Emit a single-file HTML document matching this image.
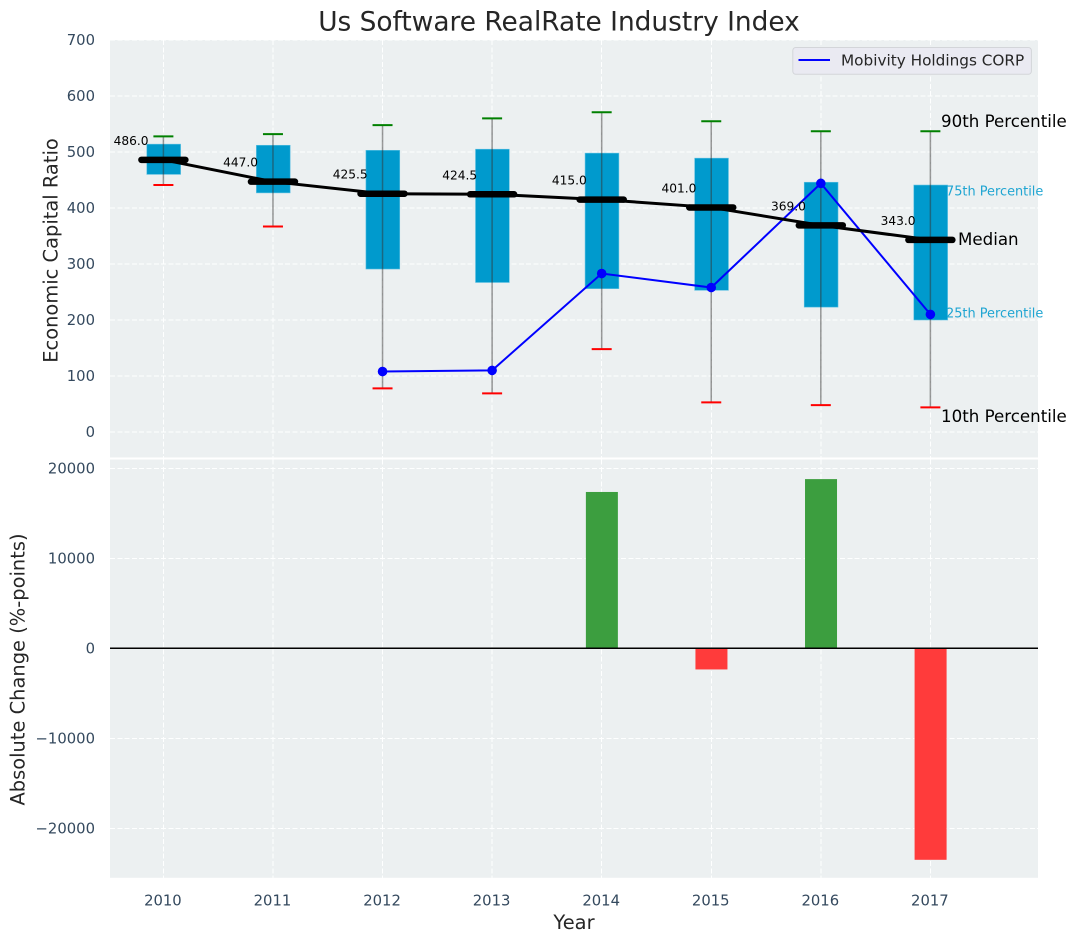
<!DOCTYPE html>
<html lang="en">
<head>
<meta charset="utf-8">
<title>Us Software RealRate Industry Index</title>
<style>
html,body{margin:0;padding:0;background:#fff;}
svg{display:block;font-family:"DejaVu Sans","Liberation Sans",sans-serif;}
</style>
</head>
<body>
<svg id="chart" xmlns="http://www.w3.org/2000/svg" width="1076" height="942" viewBox="0 0 1076 942">
  <rect x="0" y="0" width="1076" height="942" fill="#ffffff"/>
  <rect x="110" y="40" width="928" height="417.5" fill="#ecf0f1"/>
  <rect x="110" y="459.5" width="928" height="418.3" fill="#ecf0f1"/>
  <g id="grid" shape-rendering="crispEdges"></g>
  <g id="bars"></g>
  <line x1="110" x2="1038" y1="648.3" y2="648.3" stroke="#000" stroke-width="1.5"/>
  <g id="boxes"></g>
  <g id="series"></g>
  <g id="ticks"></g>
  <text x="559" y="30.5" text-anchor="middle" font-size="26.4" fill="#262626">Us Software RealRate Industry Index</text>
  <text transform="translate(57.5,250.5) rotate(-90)" text-anchor="middle" font-size="19.44" fill="#262626">Economic Capital Ratio</text>
  <text transform="translate(24.5,669.5) rotate(-90)" text-anchor="middle" font-size="19.44" fill="#262626">Absolute Change (%-points)</text>
  <text x="574" y="929" text-anchor="middle" font-size="19.44" fill="#262626">Year</text>
  <text x="941" y="127" font-size="16.67" fill="#000">90th Percentile</text>
  <text x="946" y="195.5" font-size="12.9" fill="#1fa5d2">75th Percentile</text>
  <text x="958" y="245" font-size="16.67" fill="#000">Median</text>
  <text x="946" y="317.5" font-size="12.9" fill="#1fa5d2">25th Percentile</text>
  <text x="941" y="422" font-size="16.67" fill="#000">10th Percentile</text>
  <g>
    <rect x="792.8" y="47.5" width="238.6" height="26.8" rx="3" fill="#eaeaf2" stroke="#d3d5d9" stroke-width="1"/>
    <line x1="798.5" x2="830" y1="60" y2="60" stroke="#0000ff" stroke-width="2"/>
    <text x="841" y="65.5" font-size="15.28" fill="#262626">Mobivity Holdings CORP</text>
  </g>
</svg>
<script>
const years = [2010, 2011, 2012, 2013, 2014, 2015, 2016, 2017];
const p90 = [528, 532, 548, 560, 571, 555, 537, 537];
const q3 = [514, 512, 503, 505, 498, 489, 446, 441];
const medians = [486.0, 447.0, 425.5, 424.5, 415.0, 401.0, 369.0, 343.0];
const q1 = [460, 427, 291, 267, 256, 253, 223, 200];
const p10 = [441, 367, 78, 69, 148, 53, 48, 44];
const companyValues = [null, null, 108, 110, 283, 258, 444, 210];
const changes = [0, 0, 0, 0, 17370, -2350, 18800, -23500];
const topTicks = [0, 100, 200, 300, 400, 500, 600, 700];
const bottomTicks = [-20000, -10000, 0, 10000, 20000];

const NS = 'http://www.w3.org/2000/svg';
const xScale = function (year) { return 163.4 + (year - 2010) * 109.57; };
const yTop = function (v) { return 432 - v * 0.56; };
const yBottom = function (v) { return 648.3 - v * 0.009; };

function make(parent, tag, attrs, text) {
  const el = document.createElementNS(NS, tag);
  Object.keys(attrs).forEach(function (k) { el.setAttribute(k, attrs[k]); });
  if (text !== undefined) el.textContent = text;
  parent.appendChild(el);
  return el;
}

const gridG = document.getElementById('grid');
const barsG = document.getElementById('bars');
const boxesG = document.getElementById('boxes');
const seriesG = document.getElementById('series');
const ticksG = document.getElementById('ticks');
const gridStyle = { stroke: '#ffffff', 'stroke-width': 1, 'stroke-opacity': 0.95, 'stroke-dasharray': '5 2.3' };

years.forEach(function (year) {
  const x = xScale(year);
  const a = make(gridG, 'line', Object.assign({ x1: x, x2: x, y1: 40, y2: 457.5 }, gridStyle));
  
  
  const b = make(gridG, 'line', Object.assign({ x1: x, x2: x, y1: 459.5, y2: 877.8 }, gridStyle));
  
  
  const label = make(ticksG, 'text', { x: x - 0.5, y: 905.5, 'text-anchor': 'middle', 'font-size': 14.8, fill: '#34495e' }, String(year));
  
  
});

topTicks.forEach(function (t) {
  const y = yTop(t);
  const g = make(gridG, 'line', Object.assign({ x1: 110, x2: 1038, y1: y, y2: y }, gridStyle));
  
  
  const label = make(ticksG, 'text', { x: 95, y: y + 5.2, 'text-anchor': 'end', 'font-size': 14.8, fill: '#34495e' }, String(t));
  
  
});

bottomTicks.forEach(function (t) {
  const y = yBottom(t);
  const g = make(gridG, 'line', Object.assign({ x1: 110, x2: 1038, y1: y, y2: y }, gridStyle));
  
  
  const text = t < 0 ? '\u2212' + Math.abs(t) : String(t);
  const label = make(ticksG, 'text', { x: 95, y: y + 5.2, 'text-anchor': 'end', 'font-size': 14.8, fill: '#34495e' }, text);
  
  
});

changes.forEach(function (v, i) {
  if (v === 0) return;
  const x = xScale(years[i]);
  const y0 = yBottom(0);
  const y1 = yBottom(v);
  const bar = make(barsG, 'rect', { x: x - 15.8, y: Math.min(y0, y1), width: 32, height: Math.abs(y1 - y0), fill: '#3c9e3f' });
  if (v < 0) bar.setAttribute('fill', '#ff3b3b');
  
  
});

years.forEach(function (year, i) {
  const x = xScale(year);
  const box = make(boxesG, 'rect', { x: x - 16.6, y: yTop(q3[i]), width: 33.8, height: yTop(q1[i]) - yTop(q3[i]), fill: '#009acd', stroke: '#5cc0e2', 'stroke-width': 0.6 });
  
  
  const whisker = make(boxesG, 'line', { x1: x, x2: x, y1: yTop(p90[i]), y2: yTop(p10[i]), stroke: '#333333', 'stroke-opacity': 0.5, 'stroke-width': 1.5 });
  
  
  const capHigh = make(boxesG, 'line', { x1: x - 10, x2: x + 10, y1: yTop(p90[i]), y2: yTop(p90[i]), stroke: '#008000', 'stroke-width': 2 });
  
  
  const capLow = make(boxesG, 'line', { x1: x - 10, x2: x + 10, y1: yTop(p10[i]), y2: yTop(p10[i]), stroke: '#ff0000', 'stroke-width': 2 });
  
  
});

const companyPoints = years.map(function (year, i) {
  return companyValues[i] === null ? null : [xScale(year), yTop(companyValues[i])];
}).filter(Boolean);
const companyLine = make(seriesG, 'polyline', { points: companyPoints.map(function (p) { return p.join(','); }).join(' '), fill: 'none', stroke: '#0000ff', 'stroke-width': 2 });


companyPoints.forEach(function (p) {
  const dot = make(seriesG, 'circle', { cx: p[0], cy: p[1], r: 4.8, fill: '#0000ff' });
  
  
});

const medianLine = make(seriesG, 'polyline', { points: years.map(function (year, i) { return xScale(year) + ',' + yTop(medians[i]); }).join(' '), fill: 'none', stroke: '#000000', 'stroke-width': 3 });


years.forEach(function (year, i) {
  const x = xScale(year);
  const y = yTop(medians[i]);
  const mark = make(seriesG, 'line', { x1: x - 22, x2: x + 22, y1: y, y2: y, stroke: '#000000', 'stroke-width': 6.5, 'stroke-linecap': 'round' });
  
  
  const label = make(seriesG, 'text', { x: x - 49.8, y: y - 15, 'font-size': 12.2, fill: '#000000' }, medians[i].toFixed(1));
  
  
});
</script>
</body>
</html>
